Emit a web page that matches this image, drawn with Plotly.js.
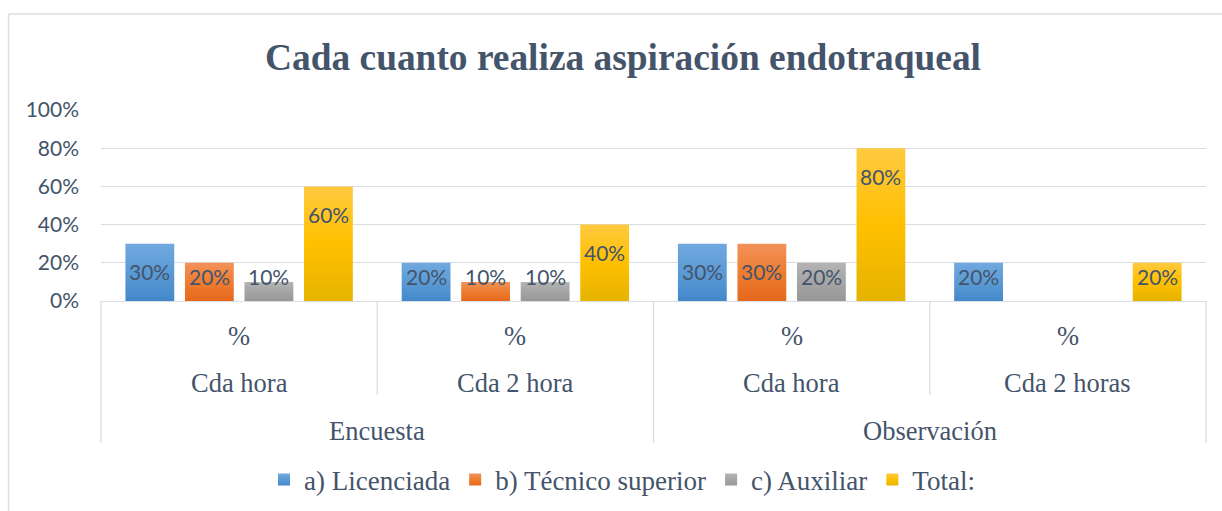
<!DOCTYPE html>
<html>
<head>
<meta charset="utf-8">
<script src="https://cdn.plot.ly/plotly-3.0.1.min.js"></script>
<style>
  html, body { margin: 0; padding: 0; background: #ffffff; }
  #chart { width: 1222px; height: 511px; }
</style>
</head>
<body>
<div id="chart"></div>
<script>
// ---- data ----
const groups   = ['Encuesta', 'Encuesta', 'Observación', 'Observación'];
const periods  = ['Cda hora', 'Cda 2 hora', 'Cda hora', 'Cda 2 horas'];
const units    = ['%', '%', '%', '%'];
const seriesNames = ['a) Licenciada', 'b) Técnico superior', 'c) Auxiliar', 'Total:'];
const licenciada = [0.30, 0.20, 0.30, 0.20];
const tecnico    = [0.20, 0.10, 0.30, null];
const auxiliar   = [0.10, 0.10, 0.20, null];
const total      = [0.60, 0.40, 0.80, 0.20];
const seriesValues = [licenciada, tecnico, auxiliar, total];
const seriesColors = ['#5B9BD5', '#ED7D31', '#A5A5A5', '#FFC000'];
// gradient stops (top, middle, bottom) imitating the Office gradient fill
const seriesGradients = [
  ['#71A8DF', '#5B9BD5', '#4488CB'],
  ['#F2925A', '#ED7D31', '#E6681C'],
  ['#B4B4B4', '#A5A5A5', '#979797'],
  ['#FFC93F', '#FFC000', '#E5B300']
];
const yTicks = [0, 0.2, 0.4, 0.6, 0.8, 1.0];

// ---- layout geometry ----
const W = 1222, H = 511;
const M = {l: 101, r: 16, t: 110, b: 210};
const plotW = W - M.l - M.r, plotH = H - M.t - M.b;
const bargap = 0.138;
const nSeries = seriesValues.length;
const slot = (1 - bargap) / nSeries;
const textColor = '#44546A';
const lineColor = '#D9DEE5';
const serif = '"Liberation Serif", "Times New Roman", serif';
const sans = 'Lato, "Liberation Sans", sans-serif';

const keys = groups.map((g, i) => g + ' · ' + periods[i] + ' · ' + i);

const traces = seriesValues.map((vals, s) => ({
  type: 'bar',
  name: seriesNames[s],
  x: keys,
  y: vals,
  marker: {color: seriesColors[s], line: {width: 0}},
  hoverinfo: 'name+y'
}));

const annotations = [];
// data labels
seriesValues.forEach((vals, s) => {
  vals.forEach((v, j) => {
    if (v === null || v === undefined) return;
    const shift = Math.min(28, v * plotH - 24.5);
    annotations.push({
      xref: 'x', yref: 'y',
      x: j + (s - (nSeries - 1) / 2) * slot,
      y: v,
      yshift: -shift,
      yanchor: 'middle', xanchor: 'center',
      text: Math.round(v * 100) + '%',
      showarrow: false,
      font: {family: sans, size: 21, color: textColor}
    });
  });
});
// category labels (three levels)
units.forEach((u, j) => {
  annotations.push({xref: 'x', yref: 'paper', x: j, y: 0, yshift: -35, yanchor: 'middle',
    text: u, showarrow: false, font: {family: serif, size: 26.5, color: textColor}});
  annotations.push({xref: 'x', yref: 'paper', x: j, y: 0, yshift: -82, yanchor: 'middle',
    text: periods[j], showarrow: false, font: {family: serif, size: 26.5, color: textColor}});
});
const uniqueGroups = [...new Set(groups)];
uniqueGroups.forEach(g => {
  const idx = groups.map((gg, i) => gg === g ? i : -1).filter(i => i >= 0);
  const mid = (idx[0] + idx[idx.length - 1]) / 2;
  annotations.push({xref: 'x', yref: 'paper', x: mid, y: 0, yshift: -130, yanchor: 'middle',
    text: g, showarrow: false, font: {family: serif, size: 26.5, color: textColor}});
});

// divider lines and chart border
const py = px => (M.t + plotH - px) / plotH;   // pixel y -> paper y
const pxX = px => (px - M.l) / plotW;           // pixel x -> paper x
const shapes = [];
for (let b = 0; b <= groups.length; b++) {
  const outer = (b === 0 || b === groups.length || groups[b] !== groups[b - 1]);
  shapes.push({type: 'line', xref: 'paper', yref: 'paper', x0: b / groups.length, x1: b / groups.length,
    y0: 0, y1: py(outer ? 443 : 395), line: {color: lineColor, width: 1.3}});
}
shapes.push({type: 'line', xref: 'paper', yref: 'paper', x0: pxX(8.5), x1: pxX(8.5), y0: py(14), y1: py(520),
  line: {color: lineColor, width: 1.5}});
shapes.push({type: 'line', xref: 'paper', yref: 'paper', x0: pxX(8.5), x1: pxX(1230), y0: py(14), y1: py(14),
  line: {color: lineColor, width: 1.5}});

const layout = {
  width: W, height: H,
  margin: M,
  paper_bgcolor: '#ffffff', plot_bgcolor: '#ffffff',
  title: {
    text: '<b>Cada cuanto realiza aspiración endotraqueal</b>',
    xref: 'container', yref: 'container',
    x: 623 / W, xanchor: 'center',
    y: 1 - 57 / H, yanchor: 'middle',
    font: {family: serif, size: 37.4, color: textColor}
  },
  barmode: 'group',
  bargap: bargap,
  bargroupgap: 0.18,
  xaxis: {
    type: 'category',
    range: [-0.5, groups.length - 0.5],
    showticklabels: false, ticks: '',
    showgrid: false, zeroline: false,
    showline: true, linecolor: lineColor, linewidth: 1.3,
    fixedrange: true
  },
  yaxis: {
    range: [0, 1],
    tickvals: yTicks,
    tickformat: '.0%',
    tickfont: {family: sans, size: 21, color: textColor},
    showgrid: true, gridcolor: lineColor, gridwidth: 1.3,
    zeroline: false, showline: false, ticks: '',
    ticklabelstandoff: 21,
    fixedrange: true
  },
  legend: {
    orientation: 'h',
    xref: 'container', yref: 'container',
    x: 622 / W, xanchor: 'center',
    y: 1 - 480 / H, yanchor: 'middle',
    font: {family: serif, size: 27, color: textColor},
    itemwidth: 30,
    traceorder: 'normal'
  },
  showlegend: true,
  annotations: annotations,
  shapes: shapes
};

function applyGradients(gd) {
  const svgNS = 'http://www.w3.org/2000/svg';
  const svg = gd.querySelector('svg.main-svg');
  let defs = svg.querySelector('defs');
  if (!defs) { defs = document.createElementNS(svgNS, 'defs'); svg.insertBefore(defs, svg.firstChild); }
  seriesGradients.forEach((stops, s) => {
    const id = 'bargrad' + s;
    if (defs.querySelector('#' + id)) return;
    const lg = document.createElementNS(svgNS, 'linearGradient');
    lg.setAttribute('id', id);
    lg.setAttribute('x1', '0'); lg.setAttribute('y1', '0');
    lg.setAttribute('x2', '0'); lg.setAttribute('y2', '1');
    stops.forEach((c, k) => {
      const st = document.createElementNS(svgNS, 'stop');
      st.setAttribute('offset', (k / (stops.length - 1) * 100) + '%');
      st.setAttribute('stop-color', c);
      lg.appendChild(st);
    });
    defs.appendChild(lg);
  });
  gd.querySelectorAll('.barlayer .trace.bars').forEach((tr, s) => {
    tr.querySelectorAll('path').forEach(p => { p.style.fill = 'url(#bargrad' + s + ')'; });
  });
  gd.querySelectorAll('.legend .traces').forEach((tr, s) => {
    tr.querySelectorAll('.legendpoints path').forEach(p => { p.style.fill = 'url(#bargrad' + s + ')'; });
  });
}

Plotly.newPlot('chart', traces, layout, {displayModeBar: false, staticPlot: true})
  .then(applyGradients);
</script>
</body>
</html>
